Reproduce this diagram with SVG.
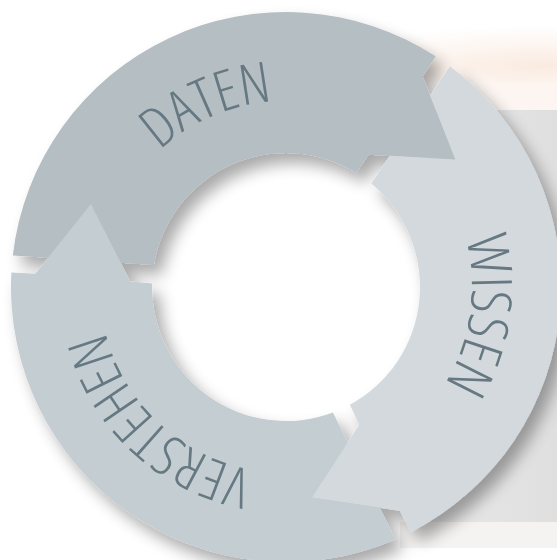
<svg xmlns="http://www.w3.org/2000/svg" width="557" height="560" viewBox="0 0 557 560">
<defs>
<style>
.lbl{font-family:"Open Sans","Roboto","Liberation Sans",sans-serif;font-weight:300;font-stretch:condensed;font-size:56px;fill:#667882}
.c-daten{fill:#b5bec3}
.c-wissen{fill:#d3d9dd}
.c-verstehen{fill:#c3cdd2}
</style>
<path id="seg" d="M -122.28 -246.32 A 275 275 0 0 1 275 0 L 251 0 L 199.21 72.51 L 155.98 -2.72 L 133.95 -3.51 A 134 134 0 0 0 -53.43 -122.89 L -69.71 -152.07 L -36.81 -208.78 L -105.03 -215.39 Z"/>
<path id="arc" d="M -174.78 -63.62 A 186 186 0 1 1 142.48 119.56" fill="none"/>
<filter id="shadow" x="-20%" y="-20%" width="140%" height="140%">
<feGaussianBlur in="SourceAlpha" stdDeviation="8"/>
<feOffset dx="8" dy="10" result="b"/>
<feComponentTransfer><feFuncA type="linear" slope="0.34"/></feComponentTransfer>
<feMerge><feMergeNode/><feMergeNode in="SourceGraphic"/></feMerge>
</filter>
<radialGradient id="glow" cx="0.5" cy="0.5" r="0.5">
<stop offset="0" stop-color="#f8e2d3" stop-opacity="0.7"/>
<stop offset="1" stop-color="#f8e2d3" stop-opacity="0"/>
</radialGradient>
<linearGradient id="panel" x1="0" y1="0" x2="1" y2="0">
<stop offset="0" stop-color="#e8e8e8"/>
<stop offset="1" stop-color="#dfdfdf"/>
</linearGradient>
<linearGradient id="band" x1="0" y1="0" x2="1" y2="0">
<stop offset="0" stop-color="#fdf8f5" stop-opacity="0"/>
<stop offset="0.4" stop-color="#fcf6f2"/>
<stop offset="1" stop-color="#fcf5f1"/>
</linearGradient>
</defs>
<rect width="557" height="560" fill="#ffffff"/>
<ellipse cx="540" cy="66" rx="230" ry="40" fill="url(#glow)"/>
<rect x="430" y="83" width="127" height="27" fill="url(#band)"/>
<rect x="430" y="110" width="127" height="412" fill="url(#panel)"/>
<rect x="400" y="522" width="157" height="26" fill="#f5f3f1"/>
<g id="ring" filter="url(#shadow)">
<g id="daten" transform="translate(286,287) rotate(303)">
<use href="#seg" class="c-daten"/>
<text class="lbl"><textPath href="#arc" startOffset="336" text-anchor="middle" textLength="125" lengthAdjust="spacingAndGlyphs">DATEN</textPath></text>
</g>
<g id="wissen" transform="translate(286,287) rotate(63)">
<use href="#seg" class="c-wissen"/>
<text class="lbl"><textPath href="#arc" startOffset="341" text-anchor="middle" textLength="152" lengthAdjust="spacingAndGlyphs">WISSEN</textPath></text>
</g>
<g id="verstehen" transform="translate(286,287) rotate(183)">
<use href="#seg" class="c-verstehen"/>
<text class="lbl"><textPath href="#arc" startOffset="358" text-anchor="middle" textLength="213" lengthAdjust="spacingAndGlyphs">VERSTEHEN</textPath></text>
</g>
</g>
<g id="connectors"/>
</svg>
